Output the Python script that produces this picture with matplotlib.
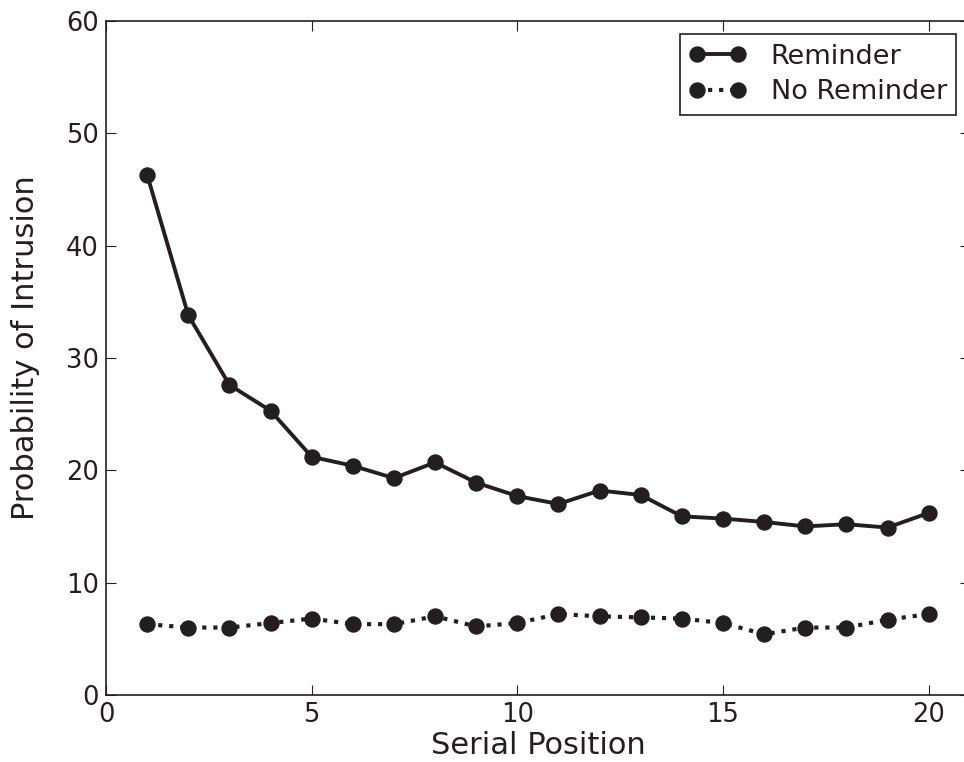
import matplotlib
matplotlib.use("Agg")
import matplotlib.pyplot as plt

plt.rcParams['font.family'] = ['DejaVu Sans']

positions = list(range(1, 21))
reminder = [46.3, 33.8, 27.6, 25.3, 21.2, 20.4, 19.3, 20.7, 18.9, 17.7,
            17.0, 18.2, 17.8, 15.9, 15.7, 15.4, 15.0, 15.2, 14.9, 16.2]
no_reminder = [6.3, 6.0, 6.0, 6.4, 6.8, 6.3, 6.3, 7.0, 6.1, 6.4,
               7.2, 7.0, 6.9, 6.8, 6.4, 5.4, 6.0, 6.0, 6.7, 7.2]

col = "#231f20"
fig = plt.figure(figsize=(9.64, 7.62), dpi=100)
ax = fig.add_axes([0.110, 0.088, 0.896, 0.8845])
ax.plot(positions, reminder, '-o', color=col, lw=2.8, ms=10.8, label="Reminder")
ax.plot(positions, no_reminder, ':o', color=col, lw=3.0, ms=10.8, label="No Reminder")
ax.set_xlim(0, 21)
ax.set_ylim(0, 60)
ax.set_xticks([0, 5, 10, 15, 20])
ax.set_yticks(range(0, 61, 10))
ax.tick_params(direction='in', length=7, labelsize=18.5, colors=col, top=True, right=True, pad=5)
for s in ax.spines.values():
    s.set_color(col)
    s.set_linewidth(1.2)
ax.set_xlabel("Serial Position", fontsize=22, color=col, labelpad=2)
ax.set_ylabel("Probability of Intrusion", fontsize=22, color=col)
ax.yaxis.set_label_coords(-0.077, 0.515)
leg = ax.legend(loc='upper right', fontsize=19.5, fancybox=False, numpoints=2,
                edgecolor=col, framealpha=1, handlelength=2.1, borderpad=0.35,
                borderaxespad=0.5, labelspacing=0.35, handletextpad=0.9)
leg.get_frame().set_linewidth(1.2)
for t in leg.get_texts():
    t.set_color(col)
fig.savefig("out.png", dpi=100)
